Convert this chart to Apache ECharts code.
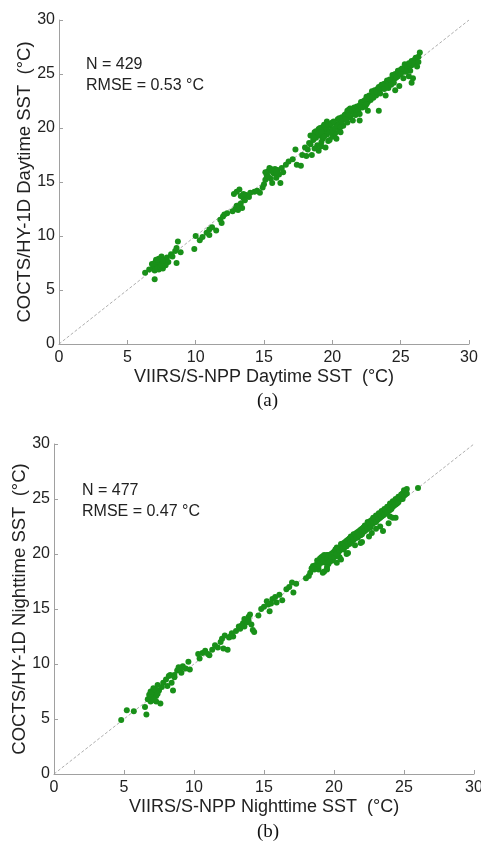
<!DOCTYPE html>
<html><head><meta charset="utf-8">
<script src="https://cdn.jsdelivr.net/npm/echarts@6/dist/echarts.min.js"></script>
<style>html,body{margin:0;padding:0;background:#fff}#c{width:481px;height:842px}</style>
</head><body><div id="c"></div>
<script>
const ticks = [0, 5, 10, 15, 20, 25, 30];
const dayLabel = ['N = 429', 'RMSE = 0.53 °C'];
const nightLabel = ['N = 477', 'RMSE = 0.47 °C'];
const dayXName = 'VIIRS/S-NPP Daytime SST  (°C)';
const dayYName = 'COCTS/HY-1D Daytime SST  (°C)';
const nightXName = 'VIIRS/S-NPP Nighttime SST  (°C)';
const nightYName = 'COCTS/HY-1D Nighttime SST  (°C)';
const oneToOne = [[0, 0], [30, 30]];

// Daytime: [VIIRS, COCTS]
const dayPoints = [
[6.3,6.6],[7.0,6.0],[6.9,7.2],[7.0,7.5],[7.1,7.8],[7.2,7.3],[7.3,7.6],[7.4,7.4],[7.5,7.9],[7.6,7.2],[7.7,7.5],[7.8,7.7],[7.9,8.0],[7.3,6.9],[7.0,6.8],[7.5,8.1],[7.2,7.0],[8.0,7.6],[8.2,8.3],[8.5,8.6],[8.6,7.5],[8.7,9.5],[8.9,8.5],[8.3,8.1],[8.6,8.9],[7.6,7.0],[6.8,7.4],[7.4,7.1],[7.8,7.3],
[7.1,7.6],[7.3,7.9],[7.5,7.3],[7.6,7.7],[7.2,7.8],[6.6,6.9],
[9.9,8.8],[10.0,10.0],[10.3,9.6],[10.5,9.9],[10.8,10.3],[11.0,10.6],[11.2,10.8],[11.0,10.1],[11.5,10.5],[11.8,11.5],[12.0,11.8],[12.1,12.0],[11.9,11.2],[12.3,12.1],
[12.7,12.3],[12.9,12.5],[13.0,12.8],[13.2,12.7],[13.3,13.0],[13.1,12.4],[12.8,13.9],[13.0,14.1],[13.3,13.7],[13.5,13.5],[13.7,13.8],[13.9,13.6],[14.0,14.0],[14.3,14.1],[14.5,14.2],[13.4,12.6],[13.2,14.3],[13.5,13.9],[13.6,13.3],
[14.7,14.0],[14.9,14.5],[15.0,14.8],[15.1,15.2],[15.2,15.6],[15.3,16.0],[15.4,16.3],[15.5,15.3],[15.6,14.9],[15.7,15.8],[15.8,16.2],[15.9,15.4],[16.0,16.1],[16.1,15.7],[16.2,14.9],[16.3,16.3],[16.4,15.9],[15.5,16.2],[15.1,15.9],[15.3,15.5],[15.6,16.0],[15.9,15.9],
[16.6,16.6],[16.8,16.9],[17.1,17.1],[17.3,18.0],[17.4,16.6],[17.7,16.5],[17.8,17.5],
[18.0,18.2],[18.1,17.4],[18.3,18.6],[18.4,19.3],[18.5,17.5],[18.6,18.9],[18.7,19.6],[18.8,19.1],[18.9,18.4],[19.0,19.9],[19.1,19.3],[19.2,18.7],[19.3,20.1],[19.3,19.0],[19.4,19.6],[19.5,18.2],[19.5,20.0],[19.6,19.4],[19.7,18.8],[19.8,20.2],[19.9,19.7],[20.0,19.2],[20.0,20.5],[20.1,19.9],[20.2,19.5],[20.3,20.3],[20.4,20.8],[20.5,19.8],[20.6,20.5],[20.7,21.0],[20.8,20.2],[20.9,20.8],[21.0,21.3],[21.1,20.5],[21.2,21.7],[21.3,21.0],[21.4,21.5],[19.0,17.9],[18.9,19.4],[19.6,20.6],[20.3,19.0],[18.2,18.0],[21.5,20.7],
[18.6,19.2],[18.8,19.7],[19.0,19.5],[19.1,20.0],[19.2,19.6],[19.4,20.3],[19.4,19.2],[19.6,19.9],[19.7,20.3],[19.8,19.6],[19.9,20.4],[20.0,19.8],[20.1,20.6],[20.2,20.0],[20.4,20.2],[20.5,20.9],[20.6,20.1],[20.7,20.6],[20.9,21.2],[21.0,20.8],[21.1,21.6],[21.2,21.2],[21.3,21.8],[21.5,21.6],[21.6,21.3],[21.8,21.5],[19.2,18.3],[19.8,18.9],[20.6,19.6],[18.4,18.5],[18.7,18.1],
[21.6,21.9],[21.7,21.2],[21.8,22.0],[21.9,21.6],[22.0,21.3],[22.1,22.4],[22.2,21.9],[22.3,22.5],[22.4,22.0],[22.5,22.9],[22.6,22.4],[22.7,23.0],[22.8,22.6],[22.9,23.4],[23.0,22.8],[23.1,23.5],[23.2,23.0],[23.3,23.6],[22.6,21.6],[23.4,21.6],[22.0,20.7],
[22.0,22.1],[22.2,22.4],[22.4,22.6],[22.5,22.2],[22.7,22.7],[22.9,22.9],[23.0,23.3],[23.2,23.4],[23.4,23.8],[23.5,23.6],[23.7,23.9],[23.8,24.1],[24.0,23.9],[24.2,24.2],[24.4,24.5],[24.6,24.6],[24.8,24.8],[25.0,25.4],[25.2,25.2],[25.4,25.7],[25.6,25.5],[25.8,25.8],[26.0,26.3],[26.3,26.6],
[23.5,23.2],[23.6,24.0],[23.8,23.6],[24.0,24.4],[24.1,23.7],[24.2,24.5],[24.3,24.0],[24.4,24.9],[24.5,24.2],[24.6,25.0],[24.7,24.7],[24.8,25.3],[25.0,25.0],[25.1,25.5],[25.2,24.6],[25.3,25.9],[25.5,25.6],[25.6,26.0],[25.7,25.3],[25.8,26.2],[26.0,26.0],[26.1,26.5],[26.2,25.7],[26.3,26.1],[26.4,27.0],[25.9,24.6],[25.8,24.2],[25.6,24.8],[24.9,23.9],[24.6,23.5],[23.9,23.0],[25.4,25.2]
];

// Nighttime: [VIIRS, COCTS]
const nightPoints = [
[4.8,4.9],[5.2,5.8],[5.7,5.7],[6.5,6.1],[6.6,5.4],[6.7,6.8],[6.8,7.2],[6.9,7.5],[7.0,7.0],[7.1,7.8],[7.2,7.3],[7.3,6.6],[7.4,8.1],[7.5,7.6],[7.6,6.4],[7.7,7.9],[7.0,6.7],[7.3,7.1],[6.9,6.6],[7.0,7.4],[7.2,7.7],[7.4,7.3],[6.9,7.0],[7.1,6.8],
[7.8,8.3],[8.0,8.6],[8.2,8.9],[8.4,8.3],[8.5,7.6],[8.6,9.0],[8.8,9.4],[8.9,9.7],[9.1,9.2],[9.2,9.8],[9.4,9.6],[9.6,10.2],[9.7,9.5],[8.3,9.0],[8.1,8.0],[8.6,8.8],[9.0,9.5],
[10.3,10.9],[10.4,10.5],[10.6,11.0],[10.8,11.2],[11.0,10.9],[11.1,10.8],[11.3,11.3],[11.5,11.7],[11.7,11.5],[11.9,12.0],[12.0,12.3],[12.1,11.4],[12.2,12.6],[12.4,11.3],[12.5,12.4],[12.7,12.8],[12.8,12.5],[12.6,12.5],
[13.0,13.0],[13.2,13.4],[13.3,13.2],[13.5,13.7],[13.6,13.4],[13.7,14.0],[13.8,13.8],[13.9,14.3],[14.0,14.5],[14.1,13.6],[14.3,12.9],[14.2,13.1],[13.4,13.5],[13.6,14.1],[13.9,13.9],
[14.6,14.4],[14.8,15.0],[15.0,15.2],[15.2,15.7],[15.3,15.4],[15.4,14.8],[15.6,15.9],[15.8,16.1],[15.9,15.6],[16.1,16.3],[16.3,15.8],[15.5,15.5],[16.6,16.8],[16.8,17.0],[17.0,17.4],[17.1,16.5],[17.3,17.3],
[18.0,17.8],[18.2,18.0],[18.3,18.3],[18.5,18.9],[18.7,19.0],[18.8,19.4],[18.9,18.6],[19.0,19.6],[19.1,19.2],[19.2,19.8],[19.3,18.4],[19.4,19.5],[19.5,19.9],[19.6,19.1],[19.7,19.7],[19.8,20.0],[19.9,19.4],[20.0,20.2],[20.1,19.8],[20.2,20.6],[20.3,20.1],[20.4,19.7],[20.5,20.6],[20.6,20.9],[20.7,20.4],[20.8,21.1],[20.9,20.7],[21.0,21.3],[21.1,20.9],[21.2,21.6],[21.3,21.2],[21.4,21.8],[21.5,21.4],[21.6,21.9],[21.7,21.5],[21.8,22.1],[21.9,21.7],[22.0,22.3],[22.1,22.0],[22.2,22.6],[22.3,22.2],[22.4,22.9],[22.5,22.5],[22.6,23.0],[22.7,22.7],[22.8,23.3],[22.9,22.9],[23.0,23.5],[23.1,23.1],[23.2,23.7],[23.3,23.3],[23.4,23.9],[23.5,23.5],[23.6,24.1],[23.7,23.7],[23.8,24.3],[23.9,23.9],[24.0,24.6],[24.1,24.1],[24.2,24.8],[24.3,24.4],[24.4,25.0],[24.5,24.6],[24.6,25.2],[24.8,25.0],[24.9,25.5],[25.0,25.8],[25.1,25.4],[25.2,25.9],[26.0,26.0],
[19.0,19.2],[19.1,19.7],[19.2,19.4],[19.3,19.9],[19.4,19.2],[19.5,19.6],[19.6,19.9],[19.7,19.3],[19.8,19.8],[19.9,20.1],[20.0,19.7],[20.1,20.4],[20.2,20.0],[20.3,20.5],[20.4,20.3],[20.5,20.9],[20.6,20.5],[20.7,21.0],[20.8,20.7],[20.9,21.2],[21.0,20.9],[21.1,21.4],[21.2,21.1],[21.3,21.6],[21.4,21.3],[21.5,21.8],[21.6,21.5],[21.7,22.0],[21.8,21.7],[21.9,22.2],[22.0,21.8],[22.1,22.4],[22.2,22.1],[22.3,22.6],[22.4,22.3],[22.5,22.8],[22.6,22.4],[22.7,23.1],[22.8,22.8],[22.9,23.2],[23.0,22.9],[23.1,23.4],[23.2,23.2],[23.3,23.6],[23.4,23.4],[23.5,23.8],[23.6,23.6],[23.7,24.0],[23.8,23.8],[23.9,24.2],[24.0,24.0],[24.1,24.5],[24.2,24.3],[24.3,24.7],[24.4,24.5],[24.5,24.9],[24.6,24.7],[24.7,25.1],[24.8,25.4],[24.9,25.0],[25.0,25.3],[25.1,25.7],[25.2,25.5],
[24.4,23.3],[24.0,23.4],[23.3,22.5],[22.7,21.9],[21.9,21.0],[20.9,20.0],[20.2,19.2],[19.5,18.8],[18.9,18.9],[18.6,18.6],[18.4,18.7],
[19.2,18.3],[21.0,20.1],[22.0,21.1],[23.0,22.3],[23.9,22.8],[24.2,23.3],[23.5,22.1],[19.5,18.6],[20.5,19.5],[21.5,20.8],[22.5,21.6]
];

const chart = echarts.init(document.getElementById('c'), null, {renderer: 'canvas'});
const txt = '#222';
const axisCol = '#a0a0a0';
const font = 'Liberation Sans, Arial, sans-serif';
function xAx(idx, name) {
  return {
    gridIndex: idx, type: 'value', min: ticks[0], max: ticks[ticks.length - 1], interval: 5,
    name: name, nameLocation: 'middle', nameGap: 24, nameMoveOverlap: false,
    nameTextStyle: {color: txt, fontSize: 18, fontFamily: font},
    axisLine: {show: true, lineStyle: {color: axisCol, width: 1}},
    axisTick: {show: true, inside: true, length: 4, lineStyle: {color: axisCol}},
    axisLabel: {color: txt, fontSize: 16, fontFamily: font, margin: 6},
    splitLine: {show: false}
  };
}
function yAx(idx, name) {
  return {
    gridIndex: idx, type: 'value', min: ticks[0], max: ticks[ticks.length - 1], interval: 5,
    name: name, nameLocation: 'middle', nameGap: 25, nameRotate: 90, nameMoveOverlap: false,
    nameTextStyle: {color: txt, fontSize: 18.5, fontFamily: font},
    axisLine: {show: true, lineStyle: {color: axisCol, width: 1}},
    axisTick: {show: true, inside: true, length: 4, lineStyle: {color: axisCol}},
    axisLabel: {color: txt, fontSize: 16, fontFamily: font, margin: 4},
    splitLine: {show: false}
  };
}
const dot = {color: '#199019', opacity: 1};
const diag = {type: [3, 2], color: '#999', width: 0.8};
chart.setOption({
  animation: false,
  grid: [
    {left: 59, right: 12, top: 20, height: 324, containLabel: false, outerBoundsMode: 'none'},
    {left: 54, right: 7, top: 444, height: 330, containLabel: false, outerBoundsMode: 'none'}
  ],
  xAxis: [xAx(0, dayXName), xAx(1, nightXName)],
  yAxis: [yAx(0, dayYName), yAx(1, nightYName)],
  series: [
    {type: 'line', xAxisIndex: 0, yAxisIndex: 0, data: oneToOne, symbol: 'none', lineStyle: diag, z: 1},
    {type: 'scatter', xAxisIndex: 0, yAxisIndex: 0, data: dayPoints, symbolSize: 6, itemStyle: dot, z: 2},
    {type: 'line', xAxisIndex: 1, yAxisIndex: 1, data: oneToOne, symbol: 'none', lineStyle: diag, z: 1},
    {type: 'scatter', xAxisIndex: 1, yAxisIndex: 1, data: nightPoints, symbolSize: 6, itemStyle: dot, z: 2}
  ],
  graphic: [
    {type: 'text', left: 86, top: 54, style: {text: dayLabel.join('\n'), fill: txt, font: '16px ' + font, lineHeight: 21}},
    {type: 'text', left: 82, top: 480, style: {text: nightLabel.join('\n'), fill: txt, font: '16px ' + font, lineHeight: 21}},
    {type: 'text', left: 257, top: 392, style: {text: '(a)', fill: '#111', font: '19px Liberation Serif, serif'}},
    {type: 'text', left: 257, top: 823, style: {text: '(b)', fill: '#111', font: '19px Liberation Serif, serif'}}
  ]
});
</script></body></html>
